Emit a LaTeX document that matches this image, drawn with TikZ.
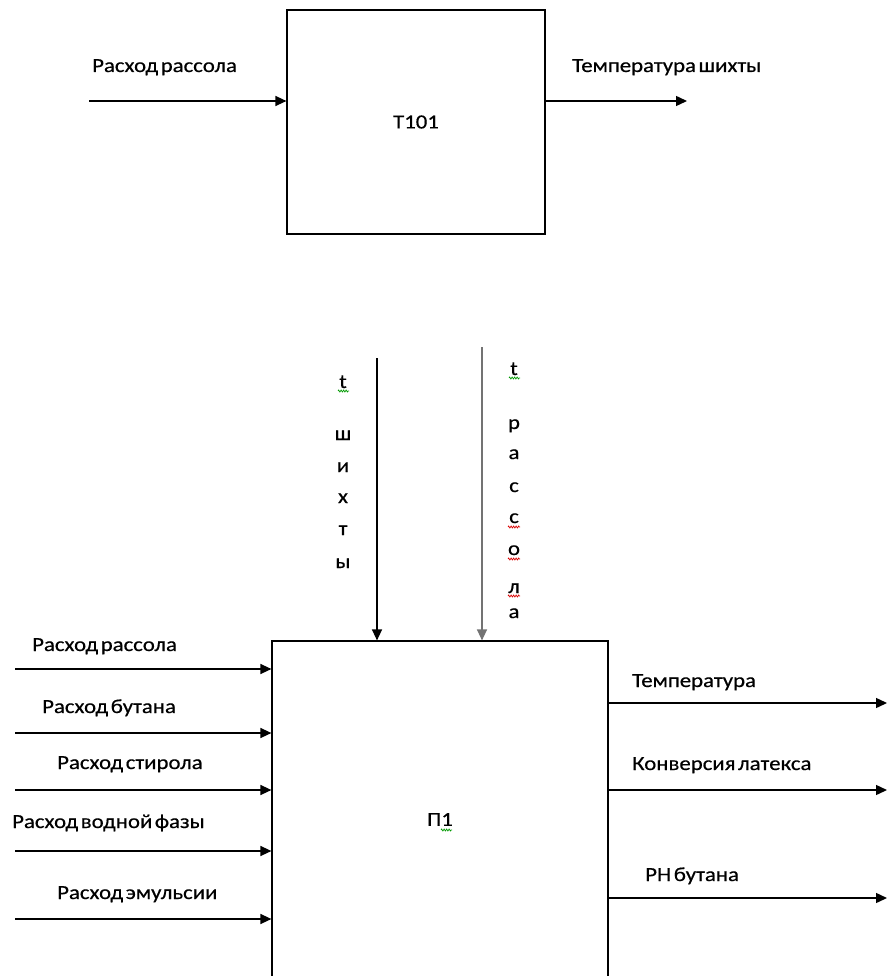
\documentclass[tikz,border=0pt]{standalone}
\usepackage{fontspec}
\setmainfont{Carlito}[FakeStretch=1.14, WordSpace=0.5, FakeBold=0.5]
\usetikzlibrary{arrows.meta,decorations.pathmorphing}
\begin{document}
\begin{tikzpicture}[x=1pt,y=-1pt,
  box/.style={draw, line width=1.2pt, rectangle, inner sep=0pt},
  flow/.style={line width=1.4pt, -{Triangle[length=11pt,width=10pt]}},
  lbl/.style={anchor=base west, inner sep=0pt, font=\fontsize{20}{24}\selectfont},
  ch/.style={anchor=base, inner sep=0pt, font=\fontsize{20}{24}\selectfont},
  wg/.style={draw=green!60!black, line width=0.7pt, decorate, decoration={zigzag,segment length=2.5pt,amplitude=1pt}},
  wr/.style={draw=red!85!black, line width=0.7pt, decorate, decoration={zigzag,segment length=2.5pt,amplitude=1pt}}
]
\useasboundingbox (0,0) rectangle (893,976);
\clip (0,0) rectangle (893,976);
% top block
\node[box, minimum width=258pt, minimum height=224pt, font=\fontsize{20}{24}\selectfont] (T) at (416,122) {T101};
\coordinate (a1) at (89,101);
\coordinate (b1) at (687,101);
\draw[flow] (a1) -- (a1 -| T.west);
\draw[flow] (T.east |- b1) -- (b1);
\node[lbl] (la1) at (92,72) {Расход рассола};
\node[lbl] (lb1) at (572,72) {Температура шихты};
% bottom block
\node[box, minimum width=336pt, minimum height=370pt] (P) at (440,826) {};
\node[inner sep=0pt, font=\fontsize{20}{24}\selectfont] (p1) at (440,819.5) {П1};
\draw[wg] (441,830) -- (452,830);
% vertical inputs
\coordinate (v1) at (377,358);
\coordinate (v2) at (482,347);
\draw[flow] (v1) -- (v1 |- P.north);
\draw[flow, draw=black!55, fill=black] (v2) -- (v2 |- P.north);
\foreach \c/\y [count=\i] in {t/388, ш/440, и/472, х/503, т/535, ы/568}
  \node[ch] (cl\i) at (343,\y) {\c};
\foreach \c/\y [count=\i] in {t/375, р/429, а/459, с/492, с/523, о/555, л/593, а/618}
  \node[ch] (cr\i) at (514,\y) {\c};
\draw[wg] (338,391) -- (349,391);
\draw[wg] (509,378) -- (520,378);
\draw[wr] (508,527) -- (520,527);
\draw[wr] (508,559) -- (520,559);
\draw[wr] (508,596) -- (520,596);
% left inputs
\foreach \y [count=\i] in {669,733,790,851,919} {
  \coordinate (in\i) at (15,\y);
  \draw[flow] (in\i) -- (in\i -| P.west);
}
\node[lbl] (l1) at (32,651) {Расход рассола};
\node[lbl] (l2) at (42,713) {Расход бутана};
\node[lbl] (l3) at (57,769) {Расход стирола};
\node[lbl] (l4) at (12,828) {Расход водной фазы};
\node[lbl] (l5) at (57,899) {Расход эмульсии};
% right outputs
\foreach \y [count=\i] in {703,790,898} {
  \coordinate (out\i) at (887,\y);
  \draw[flow] (out\i -| P.east) -- (out\i);
}
\node[lbl] (r1) at (632,687) {Температура};
\node[lbl] (r2) at (632,770) {Конверсия латекса};
\node[lbl] (r3) at (645,881) {PH бутана};
\end{tikzpicture}
\end{document}
